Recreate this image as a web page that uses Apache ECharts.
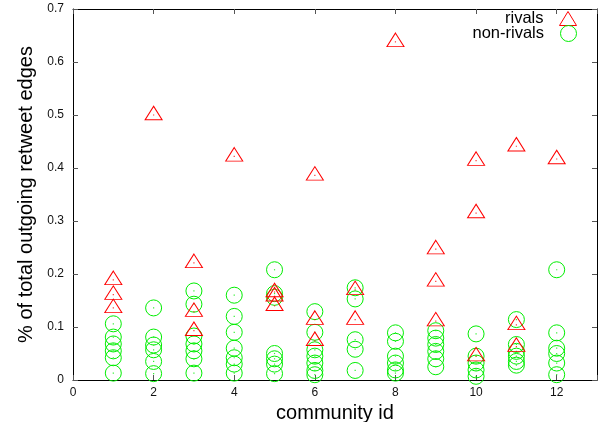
<!DOCTYPE html>
<html>
<head>
<meta charset="utf-8">
<script src="https://cdn.jsdelivr.net/npm/echarts@6/dist/echarts.min.js"></script>
<style>
html,body{margin:0;padding:0;background:#fff;}
#chart{width:603px;height:422px;}
</style>
</head>
<body>
<div id="chart"></div>
<script>
// community ids
const communities = [1, 2, 3, 4, 5, 6, 7, 8, 9, 10, 11, 12];
// % of total outgoing retweet edges, rivals (per community)
const rivals = [
  [0.189, 0.161, 0.136],
  [0.500],
  [0.221, 0.129, 0.093],
  [0.422],
  [0.166, 0.158, 0.140],
  [0.386, 0.114, 0.074],
  [0.170, 0.114],
  [0.638],
  [0.247, 0.186, 0.111],
  [0.414, 0.315, 0.045],
  [0.441, 0.104, 0.063],
  [0.417]
];
// non-rivals (per community)
const nonRivals = [
  [0.106, 0.081, 0.068, 0.055, 0.042, 0.013],
  [0.136, 0.081, 0.066, 0.057, 0.035, 0.012],
  [0.168, 0.143, 0.083, 0.068, 0.055, 0.040, 0.013],
  [0.160, 0.120, 0.090, 0.060, 0.042, 0.030, 0.013],
  [0.208, 0.163, 0.156, 0.050, 0.040, 0.030, 0.012],
  [0.129, 0.090, 0.057, 0.045, 0.032, 0.018, 0.010],
  [0.174, 0.153, 0.076, 0.058, 0.018],
  [0.089, 0.073, 0.045, 0.032, 0.019, 0.013],
  [0.093, 0.079, 0.067, 0.054, 0.040, 0.025],
  [0.087, 0.045, 0.032, 0.019, 0.007],
  [0.114, 0.067, 0.054, 0.045, 0.035, 0.028],
  [0.208, 0.089, 0.060, 0.050, 0.032, 0.010]
];
const xTicks = [0, 2, 4, 6, 8, 10, 12];
const yTicks = [0, 0.1, 0.2, 0.3, 0.4, 0.5, 0.6, 0.7];

const toPoints = (groups) => groups.flatMap((vals, i) => vals.map(v => [communities[i], v]));
const rivalPts = toPoints(rivals);
const nonRivalPts = toPoints(nonRivals);

const FONT = 'Liberation Sans, Arial, Helvetica, sans-serif';
const RED = '#ff0000', GREEN = '#00ee00';

const axisCommon = {
  axisLine: {show: true, onZero: false, lineStyle: {color: '#000', width: 1}},
  axisTick: {show: true, inside: true, length: 5, lineStyle: {color: '#555', width: 1}},
  splitLine: {show: false}
};

const chart = echarts.init(document.getElementById('chart'), null, {renderer: 'canvas'});
chart.setOption({
  animation: false,
  backgroundColor: '#fff',
  textStyle: {fontFamily: FONT},
  grid: {left: 73, right: 6, top: 9, bottom: 42, containLabel: false, outerBoundsMode: 'none'},
  xAxis: [
    Object.assign({}, axisCommon, {
      type: 'value', position: 'bottom', min: 0, max: 13, interval: 2,
      name: 'community id', nameLocation: 'middle', nameGap: 19,
      nameTextStyle: {fontSize: 20, color: '#000', fontFamily: FONT},
      axisLabel: {fontSize: 12, color: '#111', margin: 7, fontFamily: FONT,
        formatter: v => xTicks.includes(v) ? String(v) : ''}
    }),
    Object.assign({}, axisCommon, {
      type: 'value', position: 'top', min: 0, max: 13, interval: 2,
      axisLabel: {show: false}
    })
  ],
  yAxis: [
    Object.assign({}, axisCommon, {
      type: 'value', position: 'left', min: 0, max: 0.7, interval: 0.1,
      name: '% of total outgoing retweet edges', nameLocation: 'middle', nameGap: 36,
      nameTextStyle: {fontSize: 20, color: '#000', fontFamily: FONT},
      axisLabel: {fontSize: 12, color: '#111', margin: 9, fontFamily: FONT,
        formatter: v => {
          const t = yTicks.find(y => Math.abs(y - v) < 1e-9);
          return t === undefined ? '' : String(t);
        }}
    }),
    Object.assign({}, axisCommon, {
      type: 'value', position: 'right', min: 0, max: 0.7, interval: 0.1,
      axisLabel: {show: false}
    })
  ],
  legend: [
    {
      data: [{name: 'rivals', icon: 'triangle', itemStyle: {color: 'none', borderColor: RED, borderWidth: 1}}],
      right: 24, top: 9, align: 'right', orient: 'vertical',
      itemWidth: 17, itemHeight: 14, padding: 0,
      selectedMode: false,
      textStyle: {fontSize: 16.5, color: '#000', fontFamily: FONT, padding: [0, 11, 0, 0]}
    },
    {
      data: [{name: 'non-rivals', icon: 'circle', itemStyle: {color: 'none', borderColor: GREEN, borderWidth: 1}}],
      right: 24, top: 23, align: 'right', orient: 'vertical',
      itemWidth: 17, itemHeight: 16, padding: 0,
      selectedMode: false,
      textStyle: {fontSize: 16.5, color: '#000', fontFamily: FONT, padding: [0, 11, 0, 0]}
    }
  ],
  series: [
    {
      name: 'non-rivals', type: 'scatter', data: nonRivalPts,
      symbol: 'circle', symbolSize: 16,
      itemStyle: {color: 'none', borderColor: GREEN, borderWidth: 1, opacity: 1},
      emphasis: {disabled: true}, z: 2
    },
    {
      name: 'non-rivals-dot', type: 'scatter', data: nonRivalPts,
      symbol: 'rect', symbolSize: 1.2, silent: true,
      itemStyle: {color: GREEN}, z: 2
    },
    {
      name: 'rivals', type: 'scatter', data: rivalPts,
      symbol: 'triangle', symbolSize: [17, 13.5], symbolOffset: [0, -2],
      itemStyle: {color: 'none', borderColor: RED, borderWidth: 1, opacity: 1},
      emphasis: {disabled: true}, z: 3
    },
    {
      name: 'rivals-dot', type: 'scatter', data: rivalPts,
      symbol: 'rect', symbolSize: 1.2, silent: true,
      itemStyle: {color: RED}, z: 3
    }
  ]
});
</script>
</body>
</html>
